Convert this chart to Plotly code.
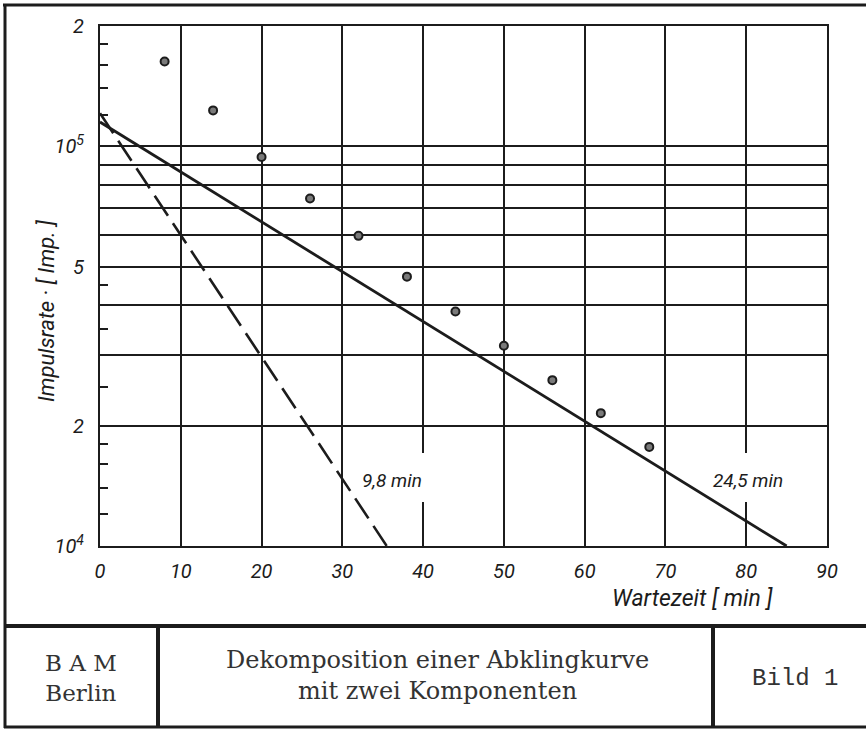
import plotly.graph_objects as go

# ---- data ----
time_min = [8, 14, 20, 26, 32, 38, 44, 50, 56, 62, 68]
rate_imp = [1.63e5, 1.23e5, 9.4e4, 7.4e4, 5.97e4, 4.72e4, 3.86e4, 3.17e4, 2.60e4, 2.15e4, 1.77e4]

fast_t = [0, 35.5]          # 9,8 min component (dashed)
fast_rate = [1.21e5, 1.0e4]
slow_t = [0, 85]            # 24,5 min component (solid)
slow_rate = [1.15e5, 1.0e4]

y_tickvals = [1e4, 2e4, 3e4, 4e4, 5e4, 6e4, 7e4, 8e4, 9e4, 1e5, 2e5]
y_ticktext = ["10<sup>4</sup>", "2", "", "", "5", "", "", "", "", "10<sup>5</sup>", "2"]
y_minor = [1.2e4, 1.4e4, 1.6e4, 1.8e4, 2.5e4, 3.5e4, 4.5e4, 1.2e5, 1.4e5, 1.6e5, 1.8e5]
x_tickvals = [0, 10, 20, 30, 40, 50, 60, 70, 80, 90]

INK = "#1c1c1c"
AX_FONT = "Roboto, Liberation Sans, sans-serif"
SERIF = "DejaVu Serif, Liberation Serif, serif"
MONO = "Liberation Mono, DejaVu Sans Mono, monospace"

W, H = 866, 730
L, R, T, B = 100, 827, 26, 546


def px(x):
    return (x - L) / (R - L)


def py(y):
    return (B - y) / (B - T)


fig = go.Figure()

fig.add_trace(go.Scatter(
    x=fast_t, y=fast_rate, mode="lines",
    line=dict(color=INK, width=2.6, dash="24px,9px"),
    showlegend=False, hoverinfo="skip"))
fig.add_trace(go.Scatter(
    x=slow_t, y=slow_rate, mode="lines",
    line=dict(color=INK, width=2.8),
    showlegend=False, hoverinfo="skip"))
fig.add_trace(go.Scatter(
    x=time_min, y=rate_imp, mode="markers",
    marker=dict(size=8, color="#7a7a7a", line=dict(color=INK, width=2)),
    showlegend=False))

fig.update_xaxes(
    range=[0, 90], tickvals=x_tickvals,
    showgrid=True, gridcolor=INK, gridwidth=1.6,
    showline=True, linecolor=INK, linewidth=2, mirror=True,
    zeroline=False, ticks="", ticklabelstandoff=6,
    tickfont=dict(family=AX_FONT, size=20, color=INK, style="italic"))

fig.update_yaxes(
    type="log", range=[4, 5.30103],
    tickvals=y_tickvals, ticktext=y_ticktext,
    showgrid=True, gridcolor=INK, gridwidth=1.6,
    showline=True, linecolor=INK, linewidth=2, mirror=True,
    zeroline=False, ticks="", ticklabelstandoff=10,
    minor=dict(tickvals=y_minor, ticks="inside", ticklen=8,
               tickcolor=INK, tickwidth=1.6, showgrid=False),
    tickfont=dict(family=AX_FONT, size=20, color=INK, style="italic"))

CM = dict(xref="paper", yref="paper", showarrow=False,
          xanchor="center", yanchor="middle")

ann = []
ann.append(dict(text="Impulsrate · [ Imp. ]", x=px(46), y=py(311), textangle=-90,
                font=dict(family=AX_FONT, size=22, color=INK, style="italic"), **CM))
ann.append(dict(text="Wartezeit [ min ]", x=px(692), y=py(598),
                font=dict(family=AX_FONT, size=23, color=INK, style="italic"), **CM))
ann.append(dict(text="9,8 min", x=px(392), y=py(480),
                font=dict(family=AX_FONT, size=19, color=INK, style="italic"), **CM))
ann.append(dict(text="24,5 min", x=px(748), y=py(480),
                font=dict(family=AX_FONT, size=19, color=INK, style="italic"), **CM))
ann.append(dict(text="B A M<br>Berlin", x=px(81), y=py(678), align="center",
                font=dict(family=SERIF, size=23, color="#333"), **CM))
ann.append(dict(text="Dekomposition einer Abklingkurve<br>mit zwei Komponenten",
                x=px(437), y=py(675), align="center",
                font=dict(family=SERIF, size=24, color="#333"), **CM))
ann.append(dict(text="Bild 1", x=px(795), y=py(678),
                font=dict(family=MONO, size=24, color="#333"), **CM))

shapes = []


def hline(y, x0, x1, w):
    shapes.append(dict(type="line", xref="paper", yref="paper",
                       x0=px(x0), x1=px(x1), y0=py(y), y1=py(y),
                       line=dict(color=INK, width=w)))


def vline(x, y0, y1, w):
    shapes.append(dict(type="line", xref="paper", yref="paper",
                       x0=px(x), x1=px(x), y0=py(y0), y1=py(y1),
                       line=dict(color=INK, width=w)))


def gap(xdata, y0, y1):
    # white break in a vertical gridline behind a line label
    shapes.append(dict(type="rect", xref="x", yref="paper",
                       x0=xdata - 0.5, x1=xdata + 0.5, y0=py(y1), y1=py(y0),
                       fillcolor="white", line=dict(width=0), layer="above"))


gap(40, 453, 502)
gap(80, 453, 502)

hline(5, 3, 866, 3)
vline(5, 4, 728, 3)
hline(626, 4, 866, 4)
hline(727, 4, 866, 3)
vline(158, 626, 727, 4)
vline(713, 626, 727, 4)

fig.update_layout(
    width=W, height=H, autosize=False,
    margin=dict(l=L, r=W - R, t=T, b=H - B),
    paper_bgcolor="white", plot_bgcolor="white",
    annotations=ann, shapes=shapes,
)

fig.write_html("out.html")
